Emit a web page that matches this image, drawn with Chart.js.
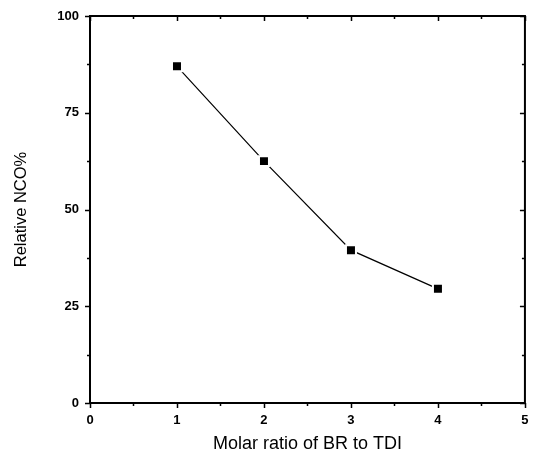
<!DOCTYPE html>
<html>
<head>
<meta charset="utf-8">
<script src="https://cdn.jsdelivr.net/npm/chart.js@4/dist/chart.umd.min.js"></script>
<style>
  html, body { margin: 0; padding: 0; background: #fff; }
  #wrap { width: 534px; height: 453px; }
</style>
</head>
<body>
<div id="wrap"><canvas id="c" width="534" height="453"></canvas></div>
<script>
  // values
  var molarRatio = [1, 2, 3, 4];
  var relativeNCO = [87, 62.5, 39.5, 29.5];
  var xTicks = [0, 1, 2, 3, 4, 5];
  var yTicks = [0, 25, 50, 75, 100];

  var FONT = "'Liberation Sans', Arial, sans-serif";

  // Draw the box frame plus tick marks: outward on bottom/left, inward on
  // top/right, with minor ticks halfway between majors.
  var framePlugin = {
    id: "frame",
    afterDraw: function (chart) {
      var a = chart.chartArea;
      var xs = chart.scales.x, ys = chart.scales.y;
      var c = chart.ctx;
      c.save();
      c.strokeStyle = "#000";
      c.lineWidth = 2;
      c.strokeRect(a.left, a.top, a.right - a.left, a.bottom - a.top);
      c.lineWidth = 1.5;
      c.beginPath();
      for (var v = 0; v <= 5.001; v += 0.5) {
        var len = (Math.abs(v - Math.round(v)) < 0.01) ? 5 : 3;
        var px = Math.round(xs.getPixelForValue(v)) + 0.5;
        c.moveTo(px, a.bottom); c.lineTo(px, a.bottom + len);
        c.moveTo(px, a.top); c.lineTo(px, a.top + len);
      }
      for (var w = 0; w <= 100.01; w += 12.5) {
        var l2 = (w % 25 === 0) ? 5 : 3;
        var py = Math.round(ys.getPixelForValue(w)) + 0.5;
        c.moveTo(a.left, py); c.lineTo(a.left - l2, py);
        c.moveTo(a.right, py); c.lineTo(a.right - l2, py);
      }
      c.stroke();
      c.restore();
    }
  };

  new Chart(document.getElementById("c").getContext("2d"), {
    type: "scatter",
    plugins: [framePlugin],
    data: {
      datasets: [{
        data: molarRatio.map(function (x, i) { return { x: x, y: relativeNCO[i] }; }),
        showLine: true,
        borderColor: "#000",
        borderWidth: 1.2,
        pointStyle: "rect",
        pointRadius: 7.07,
        pointBackgroundColor: "#000",
        pointBorderColor: "#fff",
        pointBorderWidth: 2
      }]
    },
    options: {
      responsive: false,
      animation: false,
      layout: { padding: { top: 16, right: 9, left: 0, bottom: 0 } },
      plugins: { legend: { display: false }, tooltip: { enabled: false } },
      scales: {
        x: {
          type: "linear", min: 0, max: 5,
          afterBuildTicks: function (s) { s.ticks = xTicks.map(function (v) { return { value: v }; }); },
          afterFit: function (s) { s.height = 50; s.paddingLeft = 0; s.paddingRight = 0; },
          grid: { display: false, drawTicks: false }, border: { display: false },
          ticks: { color: "#000", padding: 10, font: { family: FONT, size: 13, weight: "bold" } },
          title: { display: true, text: "Molar ratio of BR to TDI", color: "#000",
                   padding: { top: 0, bottom: 0 }, font: { family: FONT, size: 18, lineHeight: 1 } }
        },
        y: {
          type: "linear", min: 0, max: 100,
          afterBuildTicks: function (s) { s.ticks = yTicks.map(function (v) { return { value: v }; }); },
          afterFit: function (s) { s.width = 90; s.paddingTop = 0; s.paddingBottom = 0; },
          grid: { display: false, drawTicks: false }, border: { display: false },
          ticks: { color: "#000", padding: 11, font: { family: FONT, size: 13, weight: "bold" } },
          title: { display: true, text: "Relative NCO%", color: "#000",
                   padding: { top: 12, bottom: 0 }, font: { family: FONT, size: 16.5 } }
        }
      }
    }
  });
</script>
</body>
</html>
